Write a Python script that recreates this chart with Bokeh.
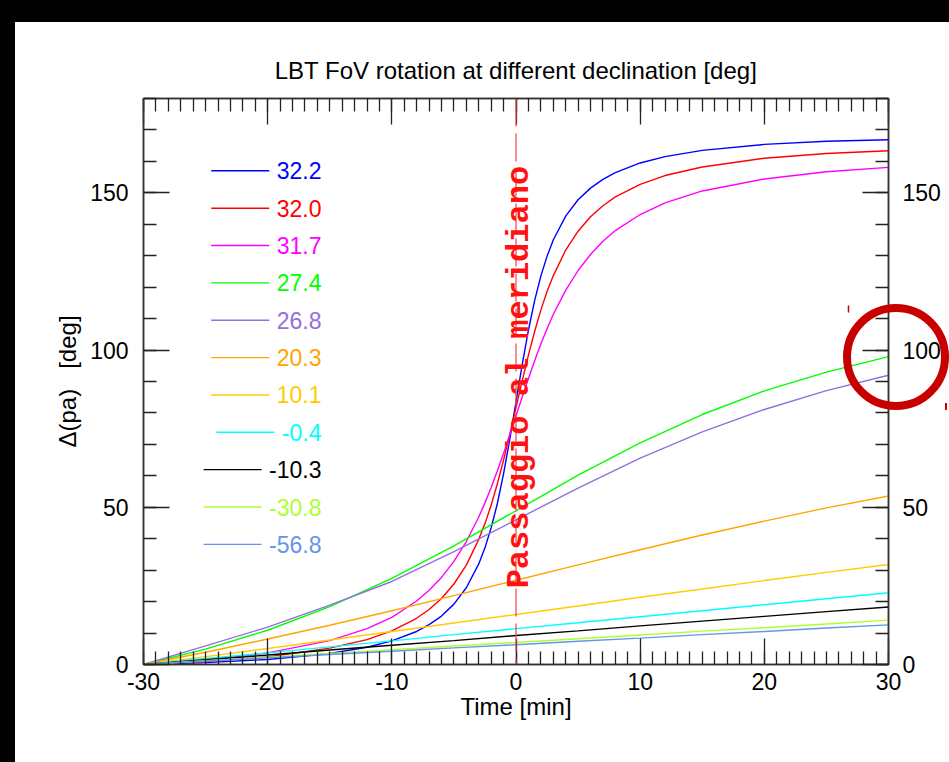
import numpy as np
from bokeh.plotting import figure
from bokeh.models import (LinearAxis, FixedTicker, Label, Span, Arrow, ColumnDataSource,
                          CustomJSTickFormatter, InlineStyleSheet)
from bokeh.embed import file_html
from bokeh.resources import INLINE
from bokeh.core.properties import value

# ---------------- texts ----------------
TITLE = "LBT FoV rotation at different declination [deg]"
X_LABEL = "Time [min]"
Y_LABEL = "Δ(pa)\u00a0\u00a0\u00a0[deg]"
MERIDIAN_TEXT = "Passaggio al meridiano"

# ---------------- ticks ----------------
XTICKS = [-30, -20, -10, 0, 10, 20, 30]
XTICK_LABELS = ["-30", "-20", "-10", "0", "10", "20", "30"]
YTICKS = [0, 50, 100, 150]
YTICK_LABELS = ["0", "50", "100", "150"]

# ---------------- data ----------------
# time grid for the fast-rotating (near-zenith) declinations
t_fast = [-30, -25, -20, -15, -12, -10, -8, -7, -6, -5, -4, -3, -2.5, -2, -1.5, -1, -0.5,
          0, 0.5, 1, 1.5, 2, 2.5, 3, 4, 5, 6, 7, 8, 10, 12, 15, 20, 25, 30]
# time grid for the slower ones
t_slow = [-30, -25, -20, -15, -10, -5, 0, 5, 10, 15, 20, 25, 30]

dec_32_2 = [0.0, 0.6, 1.6, 3.5, 5.5, 7.5, 10.5, 12.7, 15.4, 19.2, 24.4, 32.0, 37.1, 43.5,
            51.2, 60.7, 71.6, 83.5, 95.4, 106.3, 115.7, 123.5, 129.8, 135.0, 142.6, 147.8,
            151.5, 154.3, 156.4, 159.5, 161.5, 163.5, 165.4, 166.4, 166.9]
dec_32_0 = [0.0, 0.9, 2.4, 5.2, 7.9, 10.7, 14.7, 17.5, 21.0, 25.6, 31.6, 39.8, 44.8, 50.7,
            57.5, 65.0, 73.2, 81.7, 90.2, 98.4, 105.9, 112.7, 118.6, 123.6, 131.8, 137.8,
            142.4, 145.9, 148.7, 152.7, 155.5, 158.2, 161.0, 162.5, 163.4]
dec_31_7 = [0.0, 1.4, 3.7, 7.6, 11.4, 15.0, 20.2, 23.6, 27.7, 32.8, 39.1, 46.9, 51.4, 56.3,
            61.6, 67.2, 73.1, 79.1, 85.1, 90.9, 96.6, 101.9, 106.8, 111.3, 119.0, 125.3,
            130.4, 134.6, 138.0, 143.1, 146.8, 150.6, 154.4, 156.7, 158.1]
dec_27_4 = [0.0, 4.9, 10.9, 18.4, 27.4, 37.7, 48.9, 60.2, 70.5, 79.5, 87.0, 93.0, 97.9]
dec_26_8 = [0.0, 5.9, 11.9, 18.9, 26.4, 35.9, 46.0, 56.1, 65.6, 74.0, 81.1, 87.1, 92.0]
dec_20_3 = [0.0, 3.9, 8.1, 12.5, 17.1, 21.9, 26.8, 31.7, 36.5, 41.2, 45.6, 49.8, 53.6]
dec_10_1 = [0.0, 2.5, 5.1, 7.8, 10.5, 13.2, 15.9, 18.6, 21.4, 24.0, 26.7, 29.3, 31.8]
dec_m0_4 = [0.0, 1.9, 3.7, 5.6, 7.5, 9.5, 11.4, 13.3, 15.2, 17.1, 19.0, 20.9, 22.8]
dec_m10_3 = [0.0, 1.5, 3.0, 4.6, 6.1, 7.6, 9.2, 10.7, 12.3, 13.8, 15.3, 16.8, 18.3]
dec_m30_8 = [0.0, 1.2, 2.3, 3.5, 4.7, 5.9, 7.0, 8.2, 9.4, 10.6, 11.7, 12.9, 14.1]
dec_m56_8 = [0.0, 1.1, 2.1, 3.2, 4.2, 5.3, 6.3, 7.4, 8.4, 9.5, 10.5, 11.6, 12.6]

dec_labels = ["32.2", "32.0", "31.7", "27.4", "26.8", "20.3", "10.1", "-0.4", "-10.3",
              "-30.8", "-56.8"]
series = [(t_fast, dec_32_2), (t_fast, dec_32_0), (t_fast, dec_31_7), (t_slow, dec_27_4),
          (t_slow, dec_26_8), (t_slow, dec_20_3), (t_slow, dec_10_1), (t_slow, dec_m0_4),
          (t_slow, dec_m10_3), (t_slow, dec_m30_8), (t_slow, dec_m56_8)]
colors = ["#0000ff", "#ff0000", "#ff00ff", "#00ff00", "#9370db", "#ffa500", "#ffcc00",
          "#00ffff", "#000000", "#adff2f", "#6495ed"]

FONT = "Liberation Sans"

# ---------------- figure ----------------
# canvas sits at (15, 22) on the page; frame 143..888 x 98..664 (page px)
p = figure(width=934, height=740, x_range=(-30, 30), y_range=(0, 180),
           output_backend="svg", toolbar_location=None,
           min_border_left=128, min_border_right=61, min_border_top=76, min_border_bottom=98,
           title=TITLE)
p.margin = (22, 0, 0, 15)
p.xgrid.visible = False
p.ygrid.visible = False
p.outline_line_color = "#333333"
p.outline_line_width = 1.5
p.background_fill_color = "white"
p.border_fill_color = "white"

p.title.text_font = FONT
p.title.text_font_size = "24px"
p.title.text_font_style = "normal"
p.title.align = "center"
p.title.text_color = "black"
p.title.standoff = 30


def style_axis(ax, ticks, minor, labels, show_labels=True):
    ax.ticker = FixedTicker(ticks=ticks, minor_ticks=minor)
    ax.major_tick_in = 26
    ax.major_tick_out = 0
    ax.minor_tick_in = 13
    ax.minor_tick_out = 0
    ax.axis_line_color = "#333333"
    ax.axis_line_width = 1.5
    ax.major_tick_line_color = "#222222"
    ax.major_tick_line_width = 1.3
    ax.minor_tick_line_color = "#222222"
    ax.minor_tick_line_width = 1.3
    ax.major_label_text_font = FONT
    ax.major_label_text_font_size = "23px"
    ax.major_label_text_color = "black"
    ax.axis_label_text_font = FONT
    ax.axis_label_text_font_size = "24px"
    ax.axis_label_text_font_style = "normal"
    ax.axis_label_text_color = "black"
    if show_labels:
        ax.major_label_overrides = dict(zip(ticks, labels))
    else:
        ax.formatter = CustomJSTickFormatter(code="return ''")


xminor = list(range(-30, 31))
yminor = list(range(0, 181, 10))

bottom = p.xaxis[0]
style_axis(bottom, XTICKS, xminor, XTICK_LABELS)
bottom.axis_label = X_LABEL
bottom.major_label_standoff = 8
bottom.axis_label_standoff = 0

left = p.yaxis[0]
style_axis(left, YTICKS, yminor, YTICK_LABELS)
left.axis_label = Y_LABEL
left.major_label_standoff = 15
left.axis_label_standoff = 6

top = LinearAxis()
style_axis(top, XTICKS, xminor, XTICK_LABELS, show_labels=False)
top.major_label_standoff = 0
p.add_layout(top, "above")

right = LinearAxis()
style_axis(right, YTICKS, yminor, YTICK_LABELS)
right.major_label_standoff = 14
p.add_layout(right, "right")

# ---------------- curves ----------------
for (tt, vv), c in zip(series, colors):
    p.line(tt, vv, line_color=c, line_width=1.4)

# ---------------- legend drawn in the plot ----------------
def px_to_x(px):
    return -30 + (px - 143) / (745 / 60.0)


def py_to_y(py):
    return (664 - py) / (566 / 180.0)


char_w = {".": 0.278, "-": 0.333}
leg_right_px = 321
leg_y0, leg_dy = 157.0, 11.88
lx0, lx1, ly, tx = [], [], [], []
for i, lab in enumerate(dec_labels):
    w = sum(char_w.get(ch, 0.556) for ch in lab) * 23
    end_px = leg_right_px - w - 7.5
    lx0.append(px_to_x(end_px - 58))
    lx1.append(px_to_x(end_px))
    ly.append(leg_y0 - leg_dy * i)
    tx.append(px_to_x(leg_right_px))

leg_src = ColumnDataSource(dict(x0=lx0, x1=lx1, y=ly, tx=tx, text=dec_labels, color=colors))
p.segment(x0="x0", y0="y", x1="x1", y1="y", line_color="color", line_width=1.4, source=leg_src)
p.text(x="tx", y="y", text="text", text_color="color", text_font=value(FONT),
       text_font_size="23px", text_align="right", text_baseline="middle", source=leg_src)

# ---------------- meridian ----------------
p.add_layout(Span(location=0, dimension="height", line_color="#ee4444", line_width=1.2,
                  line_dash="28 7"))
p.add_layout(Label(x=0, y=91.4, x_offset=3, text=MERIDIAN_TEXT, angle=90, angle_units="deg",
                   text_font="Liberation Mono", text_font_style="bold",
                   text_font_size="32px", text_color="#ff1111",
                   text_align="center", text_baseline="middle"))

# small red mark left of the circle
p.add_layout(Arrow(end=None, x_start=px_to_x(848), y_start=py_to_y(305),
                   x_end=px_to_x(848), y_end=py_to_y(312),
                   line_color="#c80000", line_width=1.5))

# ---------------- red ring round the right "100" label (it spills past the frame,
# so it is drawn as an overlay of the figure's own element); black top/left bands
# of the screenshot drawn as the element's shadows ----------------
ring_css = """
:host {
  position: relative;
  box-shadow: 0 -22px 0 0 #000000, -15px 0 0 0 #000000, -15px -22px 0 0 #000000;
}
:host::after {
  content: ""; position: absolute; left: 828px; top: 282px;
  width: 106px; height: 106px; box-sizing: border-box;
  border: 8px solid #c80000; border-radius: 50%;
  pointer-events: none; z-index: 10;
}
:host::before {
  content: ""; position: absolute; left: 930px; top: 381px;
  width: 2px; height: 7px; background: #c80000;
  pointer-events: none; z-index: 10;
}
"""
p.stylesheets = [InlineStyleSheet(css=ring_css)]

open("out.html", "w").write(file_html(p, INLINE))
